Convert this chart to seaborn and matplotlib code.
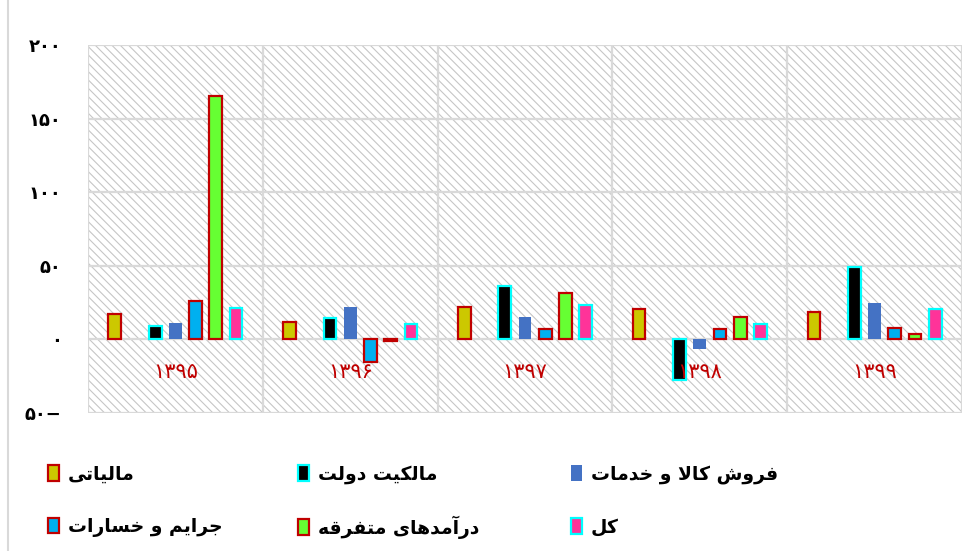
import numpy as np
import pandas as pd
import seaborn as sns
import matplotlib
matplotlib.use("Agg")
import matplotlib.pyplot as plt
from matplotlib.patches import Rectangle
from matplotlib.lines import Line2D

# ---------------- data ----------------
years = ["۱۳۹۵", "۱۳۹۶", "۱۳۹۷", "۱۳۹۸", "۱۳۹۹"]
series = ["مالیاتی", "", "مالکیت دولت", "فروش کالا و خدمات",
          "جرایم و خسارات", "درآمدهای متفرقه", "کل"]
v_tax = [17.3, 12.1, 21.9, 20.7, 18.4]
v_empty = [np.nan, np.nan, np.nan, np.nan, np.nan]
v_owner = [9.2, 14.4, 36.3, -27.5, 49.0]
v_sales = [11.0, 22.3, 15.5, -6.7, 25.0]
v_fines = [26.4, -15.5, 6.9, 6.9, 8.0]
v_misc = [165.6, -1.0, 31.3, 15.5, 3.7]
v_total = [21.6, 10.3, 23.4, 10.5, 20.7]
yticks = [-50, 0, 50, 100, 150, 200]

values = [v_tax, v_empty, v_owner, v_sales, v_fines, v_misc, v_total]
faces = ["#CCC800", "#FFFFFF", "#000000", "#4472C4", "#00B0F0", "#66FF33", "#FF3399"]
edges = ["#C00000", None, "#00FFFF", None, "#C00000", "#C00000", "#00FFFF"]

rows = []
for s, vals in zip(series, values):
    for y, v in zip(years, vals):
        rows.append({"year": y, "series": s, "value": v})
df = pd.DataFrame(rows)

# ------------- minimal Persian shaping (matplotlib has no shaping) -------------
FORMS = {
    'ا': ('\uFE8D', '\uFE8E', None, None),
    'آ': ('\uFE81', '\uFE82', None, None),
    'ت': ('\uFE95', '\uFE96', '\uFE97', '\uFE98'),
    'ج': ('\uFE9D', '\uFE9E', '\uFE9F', '\uFEA0'),
    'خ': ('\uFEA5', '\uFEA6', '\uFEA7', '\uFEA8'),
    'د': ('\uFEA9', '\uFEAA', None, None),
    'ر': ('\uFEAD', '\uFEAE', None, None),
    'س': ('\uFEB1', '\uFEB2', '\uFEB3', '\uFEB4'),
    'ش': ('\uFEB5', '\uFEB6', '\uFEB7', '\uFEB8'),
    'ف': ('\uFED1', '\uFED2', '\uFED3', '\uFED4'),
    'ق': ('\uFED5', '\uFED6', '\uFED7', '\uFED8'),
    'ک': ('\uFB8E', '\uFB8F', '\uFEDB', '\uFEDC'),
    'ل': ('\uFEDD', '\uFEDE', '\uFEDF', '\uFEE0'),
    'م': ('\uFEE1', '\uFEE2', '\uFEE3', '\uFEE4'),
    'ه': ('\uFEE9', '\uFEEA', '\uFEEB', '\uFEEC'),
    'و': ('\uFEED', '\uFEEE', None, None),
    'ی': ('\uFEEF', '\uFEF0', '\uFEF3', '\uFEF4'),
}


def shape(text):
    out = []
    chars = list(text)
    i = 0
    n = len(chars)
    while i < n:
        c = chars[i]
        if c not in FORMS:
            out.append(c)
            i += 1
            continue
        prev = chars[i - 1] if i > 0 else None
        join_prev = prev in FORMS and FORMS[prev][2] is not None
        if c == 'ل' and i + 1 < n and chars[i + 1] in ('ا', 'آ'):
            if chars[i + 1] == 'ا':
                out.append('\uFEFC' if join_prev else '\uFEFB')
            else:
                out.append('\uFEF6' if join_prev else '\uFEF5')
            i += 2
            continue
        nxt = chars[i + 1] if i + 1 < n else None
        join_next = FORMS[c][2] is not None and nxt in FORMS
        iso, fin, ini, med = FORMS[c]
        if join_prev and join_next:
            g = med
        elif join_prev:
            g = fin
        elif join_next:
            g = ini
        else:
            g = iso
        out.append(g)
        i += 1
    return "".join(out)[::-1]


def fa_num(v):
    s = str(abs(int(v))).translate(str.maketrans("0123456789", "۰۱۲۳۴۵۶۷۸۹"))
    return s + "−" if v < 0 else s


# ---------------- figure ----------------
sns.set_theme(style="white")
plt.rcParams["font.family"] = ["DejaVu Sans"]
plt.rcParams["text.color"] = "black"
plt.rcParams["hatch.color"] = "#C6C6C6"
plt.rcParams["hatch.linewidth"] = 0.8

fig = plt.figure(figsize=(9.76, 5.51), dpi=100)
ax = fig.add_axes([88 / 976, 1 - 413 / 551, (962 - 88) / 976, (413 - 45) / 551])

bg = Rectangle((0, 0), 1, 1, transform=ax.transAxes, facecolor="white",
               edgecolor="#C6C6C6", linewidth=0, hatch="\\\\\\\\", zorder=0)
ax.add_patch(bg)

palette = {s: f for s, f in zip(series, faces)}
sns.barplot(data=df, x="year", y="value", hue="series", hue_order=series,
            order=years, palette=palette, width=0.81, gap=0.37,
            errorbar=None, legend=False, saturation=1, ax=ax, zorder=3)

conts = list(ax.containers)
if len(conts) == len(series):
    idx = list(range(len(series)))
else:
    idx = [k for k, s in enumerate(series) if s != ""]
for cont, k in zip(conts, idx):
    for bar in cont:
        if edges[k] is None:
            bar.set_edgecolor("none")
            bar.set_linewidth(0)
        else:
            bar.set_edgecolor(edges[k])
            bar.set_linewidth(1.6)
        bar.set_zorder(3)

ax.set_xlim(-0.5, len(years) - 0.5)
ax.set_ylim(yticks[0], yticks[-1])
ax.set_yticks(yticks)
ax.set_yticklabels([fa_num(t) for t in yticks], fontsize=13, fontweight="bold",
                   color="black")
ax.tick_params(axis="y", length=0, pad=19)
ax.set_xticks([])
ax.set_xlabel("")
ax.set_ylabel("")
for sp in ax.spines.values():
    sp.set_visible(False)

grid_c = "#D9D9D9"
for t in yticks:
    ax.axhline(t, color=grid_c, lw=1.6, zorder=1)
for xb in np.arange(-0.5, len(years), 1.0):
    ax.axvline(xb, color=grid_c, lw=1.6, zorder=1)

for i, y in enumerate(years):
    ax.text(i, -22, y, ha="center", va="center", fontsize=15,
            color="#C00000", zorder=4)

fig.add_artist(Line2D([8 / 976, 8 / 976], [0, 1], color="#D9D9D9", lw=1.5,
                      transform=fig.transFigure))


def handle(k):
    return Rectangle((0, 0), 1, 1, facecolor=faces[k],
                     edgecolor=edges[k] if edges[k] else "none",
                     linewidth=1.6 if edges[k] else 0)


# legend entries: (series index, marker-left x px, row-centre y px)
legend_pos = [(0, 48, 474), (2, 298, 474), (3, 571, 474),
              (4, 48, 527), (5, 298, 527), (6, 571, 527)]
for k, xp, yp in legend_pos:
    fig.legend([handle(k)], [shape(series[k])],
               loc="center left", bbox_to_anchor=(xp / 976, 1 - yp / 551),
               frameon=False, prop={"weight": "bold", "size": 13.5},
               labelcolor="black",
               handlelength=0.6, handleheight=0.9, handletextpad=0.45,
               borderpad=0, borderaxespad=0)

fig.savefig("out.png", dpi=100)
